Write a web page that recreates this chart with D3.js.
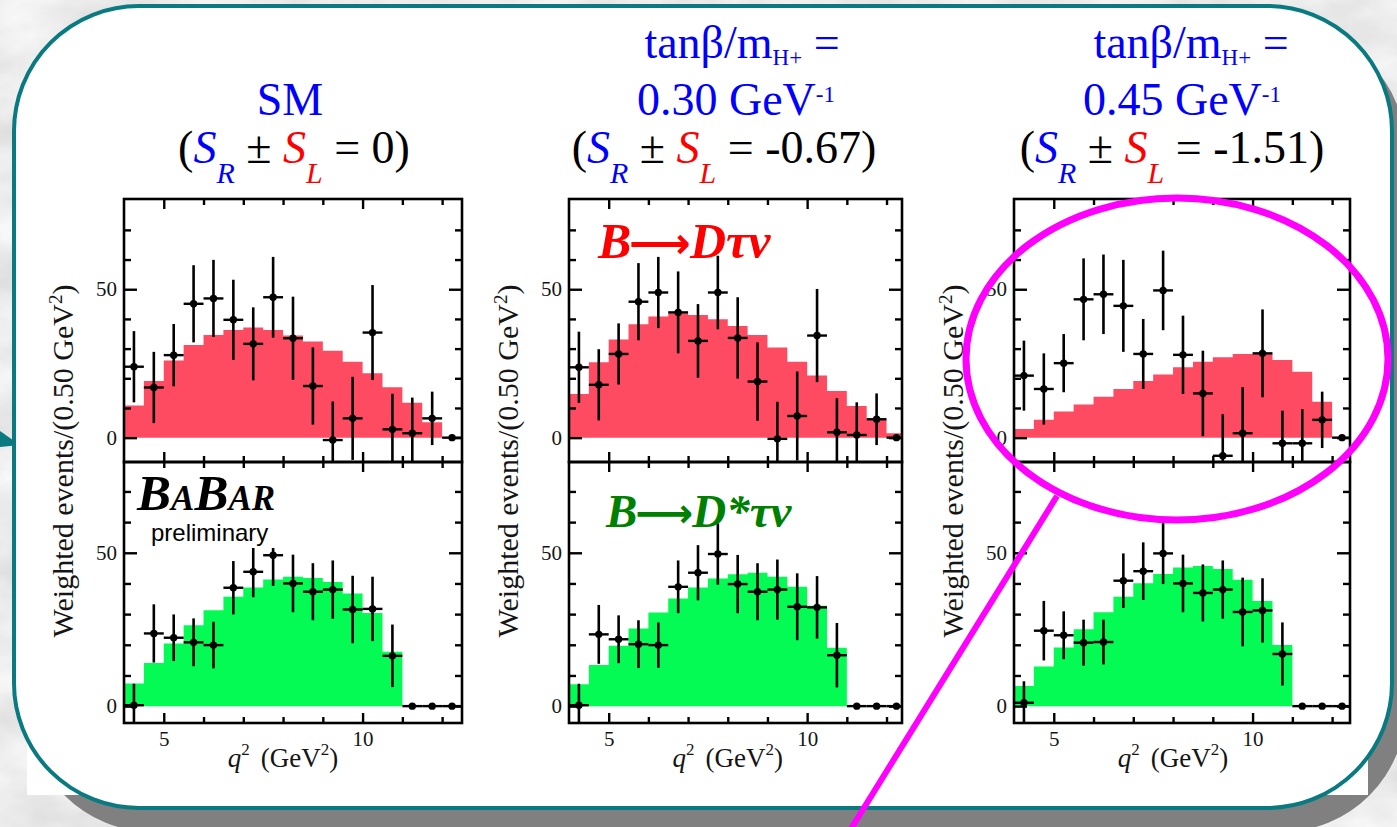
<!DOCTYPE html>
<html>
<head>
<meta charset="utf-8">
<script src="https://cdn.jsdelivr.net/npm/d3@7"></script>
<style>
  html, body { margin: 0; padding: 0; background: #d9d9d9; overflow: hidden; }
  svg { display: block; }
</style>
</head>
<body>
<svg id="chart" width="1397" height="827"></svg>
<script>
// ---- q^2 binning (GeV^2), 0.5 GeV^2 bins ----
const binLow    = [4.0, 4.5, 5.0, 5.5, 6.0, 6.5, 7.0, 7.5, 8.0, 8.5, 9.0, 9.5, 10.0, 10.5, 11.0, 11.5, 12.0];
const binCenter = [4.25, 4.75, 5.25, 5.75, 6.25, 6.75, 7.25, 7.75, 8.25, 8.75, 9.25, 9.75, 10.25, 10.75, 11.25, 11.75, 12.25];

// ---- SM (S_R +- S_L = 0) ----
const smDtauFit   = [10.8, 19.1, 26.0, 31.2, 34.6, 36.3, 37.1, 36.3, 34.4, 32.4, 29.3, 25.6, 21.7, 17.0, 11.8, 5.2, 0];
const smDtauData  = [23.9, 16.9, 27.8, 45.1, 46.9, 39.7, 31.6, 47.3, 33.5, 17.4, -0.8, 6.5, 35.4, 2.8, 1.5, 6.5, 0];
const smDtauErr   = [12, 12, 10.5, 13, 13, 13.5, 12.3, 13.6, 14, 13, 13, 14, 16, 12, 12, 9, 0];
const smDstarFit  = [7.4, 14.1, 20.4, 26.4, 31.3, 35.7, 38.7, 41.3, 42.2, 41.8, 40.5, 36.7, 30.4, 17.7, 0, 0, 0];
const smDstarData = [0.3, 23.7, 22.3, 20.8, 19.9, 38.6, 43.8, 49.2, 40.0, 37.3, 38.0, 31.5, 31.7, 16.4, 0, 0, 0];
const smDstarErr  = [7, 9.5, 7.6, 7.8, 7.6, 8.7, 8.3, 10, 9.4, 9.3, 9.5, 11, 10.5, 10.2, 0, 0, 0];

// ---- 2HDM, tanB/mH+ = 0.30 GeV^-1 (S_R +- S_L = -0.67) ----
const h30DtauFit   = [14.7, 25.4, 33.1, 38.2, 40.8, 41.9, 41.3, 39.9, 37.6, 34.6, 30.4, 25.6, 20.9, 15.7, 10.7, 6.0, 1.5];
const h30DtauData  = [23.7, 17.8, 28.2, 45.8, 48.9, 42.2, 32.6, 48.9, 33.6, 18.9, -0.4, 7.3, 34.4, 1.8, 0.9, 6.2, 0];
const h30DtauErr   = [12, 12, 10.3, 13, 12, 13.8, 12.4, 12.4, 13.7, 13.2, 12.5, 15, 15.7, 11.5, 11, 8.7, 0];
const h30DstarFit  = [7.1, 13.4, 19.7, 25.3, 30.5, 35.1, 38.7, 41.6, 43.0, 43.5, 42.2, 38.9, 32.7, 19.0, 0, 0, 0];
const h30DstarData = [0.3, 23.4, 21.8, 20.2, 19.9, 38.9, 43.5, 49.6, 39.8, 37.3, 38.0, 32.4, 32.2, 16.6, 0, 0, 0];
const h30DstarErr  = [7, 9.6, 7.8, 7.8, 7.4, 8.6, 9, 10, 9.5, 9.3, 9.8, 10.9, 10.2, 10.5, 0, 0, 0];

// ---- 2HDM, tanB/mH+ = 0.45 GeV^-1 (S_R +- S_L = -1.51) ----
const h45DtauFit   = [2.9, 6.0, 8.8, 11.2, 13.8, 16.4, 19.1, 21.3, 23.7, 25.6, 27.1, 28.2, 28.2, 26.2, 22.2, 12.1, 0];
const h45DtauData  = [20.9, 16.4, 25.1, 46.6, 48.3, 44.4, 28.2, 49.6, 27.9, 14.9, -6.1, 1.5, 28.4, -1.9, -1.9, 6.0, 0];
const h45DtauErr   = [11.8, 12, 9.8, 13.8, 13.4, 15.5, 11.8, 13.4, 13.2, 14.4, 14, 15.5, 14.8, 11, 11.5, 9.5, 0];
const h45DstarFit  = [6.6, 12.9, 19.1, 25.1, 30.6, 35.7, 40.1, 43.1, 45.2, 45.7, 44.7, 41.2, 34.3, 19.9, 0, 0, 0];
const h45DstarData = [1.1, 24.6, 23.1, 20.7, 20.9, 40.9, 44.0, 49.8, 40.0, 36.9, 38.0, 30.7, 31.2, 17.0, 0, 0, 0];
const h45DstarErr  = [7, 9.7, 7.8, 7.5, 7.3, 8.9, 9.4, 10, 9.4, 9.3, 9.5, 11.2, 10.5, 10.3, 0, 0, 0];

// ---- axis ticks ----
const yMajorTicks = [0, 50];
const yMinorTicks = [10, 20, 30, 40, 60, 70];
const xMajorTicks = [5, 10];
const xMinorTicks = [6, 7, 8, 9, 11, 12];

const svg = d3.select('#chart');
const defs = svg.append('defs');

// marbled grey slide background
const marble = defs.append('filter').attr('id', 'marble')
  .attr('x', 0).attr('y', 0).attr('width', '100%').attr('height', '100%');
marble.append('feTurbulence').attr('type', 'fractalNoise')
  .attr('baseFrequency', '0.012 0.02').attr('numOctaves', 5).attr('seed', 11);
marble.append('feColorMatrix').attr('type', 'matrix')
  .attr('values', '0.32 0 0 0 0.68  0.32 0 0 0 0.68  0.32 0 0 0 0.68  0 0 0 0 1');
svg.append('rect').attr('width', 1397).attr('height', 827).attr('filter', 'url(#marble)');

// callout box: drop shadow, white backing, rounded teal frame
const teal = '#087a80';
svg.append('rect').attr('x', 28).attr('y', 26).attr('width', 1378).attr('height', 806)
  .attr('rx', 125).attr('ry', 125).attr('fill', '#808080');
svg.append('rect').attr('x', 27).attr('y', 150).attr('width', 1341).attr('height', 645).attr('fill', '#ffffff');
svg.append('polygon').attr('points', '0,431 20,445 0,447').attr('fill', teal);
svg.append('rect').attr('x', 14).attr('y', 6).attr('width', 1378).attr('height', 802)
  .attr('rx', 125).attr('ry', 125).attr('fill', '#ffffff').attr('stroke', teal).attr('stroke-width', 4);

// ---- column headers ----
const BLUE = '#0000ff', RED = '#ff0000', BLACK = '#000000';
function header(cx, y, parts) {
  const t = svg.append('text').attr('x', cx).attr('y', y).attr('text-anchor', 'middle')
    .attr('font-family', "'Liberation Serif', 'Times New Roman', serif").attr('font-size', 46);
  parts.forEach(p => {
    const s = t.append('tspan').text(p.t).attr('fill', p.fill);
    if (p.italic) s.attr('font-style', 'italic');
    if (p.size) s.attr('font-size', p.size);
    if (p.dy) s.attr('dy', p.dy);
  });
}
function couplingRow(cx, value) {
  header(cx, 163, [
    { t: '(', fill: BLACK },
    { t: 'S', fill: BLUE, italic: true },
    { t: 'R', fill: BLUE, italic: true, size: 30, dy: 20 },
    { t: ' \u00b1 ', fill: BLACK, dy: -20 },
    { t: 'S', fill: RED, italic: true },
    { t: 'L', fill: RED, italic: true, size: 30, dy: 20 },
    { t: ' = ' + value + ')', fill: BLACK, dy: -20 }
  ]);
}
function tanBetaRows(cx1, cx2, value) {
  header(cx1, 58, [
    { t: 'tan\u03b2/m', fill: BLUE },
    { t: 'H+', fill: BLUE, size: 23, dy: 7 },
    { t: ' =', fill: BLUE, dy: -7 }
  ]);
  header(cx2, 115, [
    { t: value + ' GeV', fill: BLUE },
    { t: '-1', fill: BLUE, size: 23, dy: -13 }
  ]);
}
header(290, 115, [{ t: 'SM', fill: BLUE }]);
couplingRow(294, '0');
tanBetaRows(742, 736, '0.30');
couplingRow(724, '-0.67');
tanBetaRows(1191, 1182, '0.45');
couplingRow(1172, '-1.51');

// ---- histogram panels ----
const rows = [
  { key: 'tau',  y0: 199, y1: 462, dom: [-8.2, 80.4], fill: '#ff4b61' },
  { key: 'star', y0: 462, y1: 723, dom: [-5.5, 79.6], fill: '#03fb53' }
];
const panels = [
  { x0: 124,  w: 338, qMax: 12.5,
    tau:  { fit: smDtauFit,  data: smDtauData,  err: smDtauErr },
    star: { fit: smDstarFit, data: smDstarData, err: smDstarErr } },
  { x0: 569,  w: 333, qMax: 12.39,
    tau:  { fit: h30DtauFit,  data: h30DtauData,  err: h30DtauErr },
    star: { fit: h30DstarFit, data: h30DstarData, err: h30DstarErr } },
  { x0: 1014, w: 336, qMax: 12.45,
    tau:  { fit: h45DtauFit,  data: h45DtauData,  err: h45DtauErr },
    star: { fit: h45DstarFit, data: h45DstarData, err: h45DstarErr } }
];

const serif = "'Liberation Serif', 'Times New Roman', serif";
let clipId = 0;

panels.forEach((p, pi) => {
  const x = d3.scaleLinear().domain([4, p.qMax]).range([p.x0, p.x0 + p.w]);

  rows.forEach((r, ri) => {
    const set = p[r.key];
    const y = d3.scaleLinear().domain(r.dom).range([r.y1, r.y0]);
    const g = svg.append('g');
    const cid = 'clip' + (clipId++);
    defs.append('clipPath').attr('id', cid).append('rect')
      .attr('x', p.x0).attr('y', r.y0).attr('width', p.w).attr('height', r.y1 - r.y0);
    const inner = g.append('g').attr('clip-path', `url(#${cid})`);

    // expected distribution (step histogram)
    const steps = binLow.map((b, i) => [b, set.fit[i]]);
    steps.push([binLow[binLow.length - 1] + 0.5, set.fit[set.fit.length - 1]]);
    const area = d3.area().curve(d3.curveStepAfter)
      .x(d => x(d[0])).y0(y(0)).y1(d => y(d[1]));
    inner.append('path').datum(steps).attr('d', area).attr('fill', r.fill);

    // data points with error bars
    const pts = binCenter.map((c, i) => ({ c, v: set.data[i], e: set.err[i] }));
    inner.selectAll('line.ey').data(pts.filter(d => d.e > 0)).join('line')
      .attr('x1', d => x(d.c)).attr('x2', d => x(d.c))
      .attr('y1', d => y(d.v - d.e)).attr('y2', d => y(d.v + d.e))
      .attr('stroke', '#000').attr('stroke-width', 2.6);
    inner.selectAll('line.ex').data(pts).join('line')
      .attr('x1', d => x(d.c - 0.25)).attr('x2', d => x(d.c + 0.25))
      .attr('y1', d => y(d.v)).attr('y2', d => y(d.v))
      .attr('stroke', '#000').attr('stroke-width', 2.4);
    inner.selectAll('circle').data(pts).join('circle')
      .attr('cx', d => x(d.c)).attr('cy', d => y(d.v)).attr('r', 3.7).attr('fill', '#000');

    // ticks on all four sides, pointing inwards
    const tickStyle = sel => {
      sel.select('.domain').remove();
      sel.selectAll('line').attr('stroke', '#000').attr('stroke-width', 2.4);
      sel.selectAll('text').attr('font-family', serif).attr('font-size', 21).attr('fill', '#151515');
    };
    g.append('g').attr('transform', `translate(${p.x0},0)`)
      .call(d3.axisLeft(y).tickValues(yMinorTicks).tickSize(-7).tickFormat('')).call(tickStyle);
    g.append('g').attr('transform', `translate(${p.x0},0)`)
      .call(d3.axisLeft(y).tickValues(yMajorTicks).tickSize(-13).tickPadding(7).tickFormat(d3.format('d'))).call(tickStyle);
    g.append('g').attr('transform', `translate(${p.x0 + p.w},0)`)
      .call(d3.axisRight(y).tickValues(yMinorTicks).tickSize(-7).tickFormat('')).call(tickStyle);
    g.append('g').attr('transform', `translate(${p.x0 + p.w},0)`)
      .call(d3.axisRight(y).tickValues(yMajorTicks).tickSize(-13).tickFormat('')).call(tickStyle);
    g.append('g').attr('transform', `translate(0,${r.y0})`)
      .call(d3.axisTop(x).tickValues(xMinorTicks).tickSize(-6).tickFormat('')).call(tickStyle);
    g.append('g').attr('transform', `translate(0,${r.y0})`)
      .call(d3.axisTop(x).tickValues(xMajorTicks).tickSize(-10).tickFormat('')).call(tickStyle);
    g.append('g').attr('transform', `translate(0,${r.y1})`)
      .call(d3.axisBottom(x).tickValues(xMinorTicks).tickSize(-6).tickFormat('')).call(tickStyle);
    g.append('g').attr('transform', `translate(0,${r.y1})`)
      .call(d3.axisBottom(x).tickValues(xMajorTicks).tickSize(-10).tickPadding(8)
        .tickFormat(ri === 1 ? d3.format('d') : '')).call(tickStyle);

    // frame
    g.append('rect').attr('x', p.x0).attr('y', r.y0).attr('width', p.w).attr('height', r.y1 - r.y0)
      .attr('fill', 'none').attr('stroke', '#000').attr('stroke-width', 2.6);
  });

  // x-axis title
  const xt = svg.append('text').attr('x', x(8)).attr('y', 767).attr('text-anchor', 'middle')
    .attr('font-family', serif).attr('font-size', 27).attr('fill', '#151515');
  xt.append('tspan').attr('font-style', 'italic').text('q');
  xt.append('tspan').attr('font-size', 17).attr('dy', -12).text('2');
  xt.append('tspan').attr('dy', 12).attr('dx', 11).text('(GeV');
  xt.append('tspan').attr('font-size', 17).attr('dy', -12).text('2');
  xt.append('tspan').attr('dy', 12).text(')');

  // y-axis title
  const yt = svg.append('text').attr('transform', `translate(${p.x0 - 51},461) rotate(-90)`)
    .attr('text-anchor', 'middle').attr('font-family', serif).attr('font-size', 30).attr('fill', '#151515');
  yt.append('tspan').text('Weighted events/(0.50 GeV');
  yt.append('tspan').attr('font-size', 19).attr('dy', -11).text('2');
  yt.append('tspan').attr('dy', 11).text(')');
});

// ---- channel labels ----
function channelLabel(x0, y0, size, color, tail) {
  const t = svg.append('text').attr('x', x0).attr('y', y0)
    .attr('font-family', serif).attr('font-size', size).attr('font-weight', 'bold').attr('font-style', 'italic')
    .attr('fill', color);
  t.append('tspan').text('B');
  t.append('tspan').attr('font-family', "'DejaVu Sans', sans-serif").attr('font-style', 'normal')
    .attr('font-size', size * 0.86).attr('dx', -2).text('\u27f6');
  t.append('tspan').attr('dx', -1).text(tail);
}
channelLabel(598, 258, 50, '#ff0000', 'D\u03c4\u03bd');
channelLabel(606, 527, 47, '#008000', 'D*\u03c4\u03bd');

// ---- experiment logo ----
svg.append('rect').attr('x', 134).attr('y', 468).attr('width', 156).attr('height', 80).attr('fill', '#fff');
const logo = svg.append('text').attr('x', 137).attr('y', 510)
  .attr('font-family', serif).attr('font-weight', 'bold').attr('font-style', 'italic').attr('fill', '#000');
logo.append('tspan').attr('font-size', 51).text('B');
logo.append('tspan').attr('font-size', 35).text('A');
logo.append('tspan').attr('font-size', 51).text('B');
logo.append('tspan').attr('font-size', 35).text('AR');
svg.append('text').attr('x', 151).attr('y', 541)
  .attr('font-family', "'Liberation Sans', Arial, sans-serif").attr('font-size', 24).attr('fill', '#000')
  .text('preliminary');

// ---- highlight of the 0.45 GeV^-1 B->D tau nu fit ----
svg.append('ellipse').attr('cx', 1177).attr('cy', 359).attr('rx', 211).attr('ry', 161)
  .attr('fill', 'none').attr('stroke', '#ff00ff').attr('stroke-width', 7);
svg.append('line').attr('x1', 1057).attr('y1', 496).attr('x2', 849).attr('y2', 832)
  .attr('stroke', '#ff00ff').attr('stroke-width', 6);
</script>
</body>
</html>
